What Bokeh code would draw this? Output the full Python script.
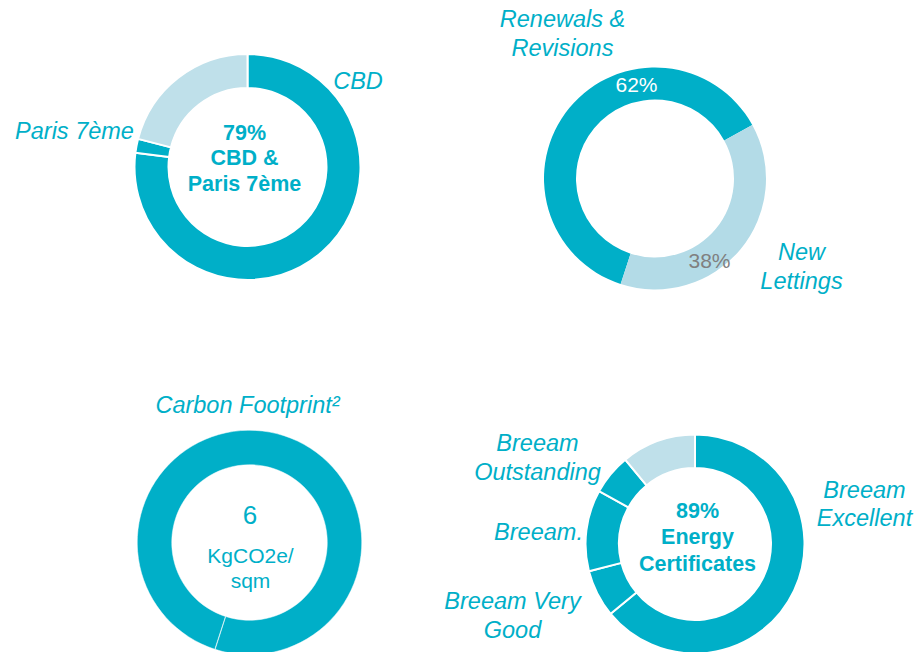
import numpy as np
from bokeh.plotting import figure
from bokeh.models import Range1d, ColumnDataSource
from bokeh.embed import file_html
from bokeh.resources import INLINE
from bokeh.core.properties import value

# ---------------- data ----------------
cbd_labels = ["CBD", "Paris 7ème", "Other"]
cbd_values = [77, 2, 21]

lease_labels = ["Renewals &\nRevisions", "New\nLettings"]
lease_values = [62, 38]

carbon_values = [100]
carbon_title = "Carbon Footprint²"
carbon_footprint = "6"
carbon_unit = "KgCO2e/\nsqm"

breeam_labels = ["Breeam\nExcellent", "Breeam Very\nGood", "Breeam.", "Breeam\nOutstanding", "Other"]
breeam_values = [64, 7, 12, 6, 11]

# ---------------- style ----------------
TEAL = "#00AFC8"
LIGHT = "#BFE0EA"
LIGHT2 = "#B3DBE7"
GREY = "#808080"
FONT = value("Liberation Sans")

W, H = 916, 652
p = figure(width=W, height=H, x_range=Range1d(0, W), y_range=Range1d(0, H),
           output_backend="svg", toolbar_location=None, min_border=0)
p.axis.visible = False
p.grid.visible = False
p.outline_line_color = None
p.background_fill_color = "white"
p.border_fill_color = "white"


def Y(y):
    return H - y


def donut(cx, cy, values, colors, start_deg, r_in, r_out, lw=2.0, line_color="white"):
    vals = np.array(values, dtype=float)
    frac = vals / vals.sum()
    span = frac * 2 * np.pi
    if len(vals) == 1:
        span = span * 0.9995
    ends = np.cumsum(span)
    starts = ends - span
    a0 = np.deg2rad(start_deg)
    src = ColumnDataSource(dict(x=[cx] * len(vals), y=[Y(cy)] * len(vals),
                                start=a0 - starts, end=a0 - ends, color=colors))
    p.annular_wedge(x="x", y="y", inner_radius=r_in - lw / 2, outer_radius=r_out + lw / 2,
                    inner_radius_units="screen", outer_radius_units="screen",
                    start_angle="start", end_angle="end", direction="clock",
                    fill_color="color", line_color=line_color, line_width=lw, source=src)


def label(x, y, txt, size, color=TEAL, style="italic", lh=1.12):
    p.text(x=[x], y=[Y(y)], text=[txt], text_font=FONT, text_font_size=size,
           text_font_style=style, text_color=color, text_align="center",
           text_baseline="middle", text_line_height=lh)


# Donut 1: CBD & Paris 7ème
donut(247, 166.5, cbd_values, [TEAL, TEAL, LIGHT], 90, 80, 112)
label(357.5, 80.5, cbd_labels[0], "23.5px")
label(74, 130, cbd_labels[1], "23.5px")
label(244, 158, f"{cbd_values[0] + cbd_values[1]}%\nCBD &\nParis 7ème", "21.5px", style="bold", lh=1.075)

# Donut 2: leases
donut(654.5, 178, lease_values, [TEAL, LIGHT2], 252, 79, 111, lw=0.0, line_color=None)
label(562, 33, lease_labels[0], "23.5px", lh=1.12)
label(801, 266, lease_labels[1], "23.5px", lh=1.12)
label(636, 83.5, f"{lease_values[0]}%", "21px", color="white", style="normal")
label(709, 260, f"{lease_values[1]}%", "21px", color=GREY, style="normal")

# Donut 3: carbon footprint
donut(249, 542, carbon_values, [TEAL], 252, 78, 112, lw=0.5)
label(247, 404, carbon_title, "23.5px")
label(249.5, 514, carbon_footprint, "26px", style="normal")
label(250, 567.5, carbon_unit, "21px", style="normal", lh=1.1)

# Donut 4: Breeam
donut(694.5, 543.5, breeam_values, [TEAL, TEAL, TEAL, TEAL, LIGHT], 90, 77, 108.5)
label(864, 503.5, breeam_labels[0], "23.5px", lh=1.04)
label(512, 615, breeam_labels[1], "23.5px", lh=1.08)
label(538, 531, breeam_labels[2], "23.5px")
label(537, 457, breeam_labels[3], "23.5px", lh=1.1)
label(697, 537, f"{sum(breeam_values[:4])}%\nEnergy\nCertificates", "21.5px", style="bold", lh=1.12)

open("out.html", "w").write(file_html(p, INLINE))
